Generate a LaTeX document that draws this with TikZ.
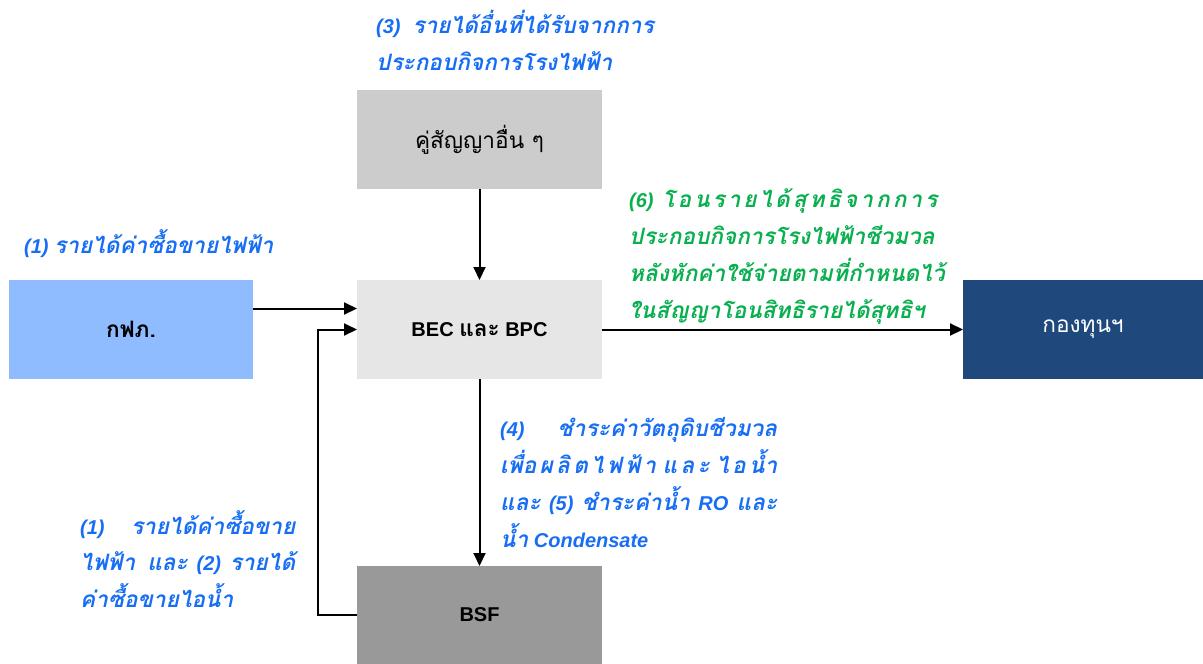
\documentclass[tikz,border=0pt]{standalone}
\usepackage{fontspec}
\setmainfont{Liberation Sans}
\newfontfamily\thaifont[Script=Thai,Scale=1.13]{Loma}
\newcommand\thtxt[1]{{\thaifont #1}}
\usetikzlibrary{arrows.meta}
\definecolor{gA}{HTML}{CCCCCC}
\definecolor{gB}{HTML}{E6E6E6}
\definecolor{gC}{HTML}{999999}
\definecolor{peablue}{HTML}{8FBBFF}
\definecolor{fundblue}{HTML}{1F497D}
\definecolor{labblue}{HTML}{176EF4}
\definecolor{labgreen}{HTML}{0AB050}
\begin{document}
\begin{tikzpicture}[x=1pt,y=-1pt,
  box/.style={minimum width=245pt, minimum height=99pt, inner sep=0pt, outer sep=0pt, anchor=north west, font=\fontsize{20}{24}\selectfont},
  boxb/.style={box, font=\bfseries\fontsize{20}{24}\selectfont},
  arr/.style={line width=2pt, -{Triangle[length=13pt,width=12pt]}},
  lab/.style={align=left, inner sep=0pt, anchor=north west, font=\bfseries\itshape\fontsize{20}{37}\selectfont},
  labb/.style={lab, text=labblue},
  labg/.style={lab, text=labgreen}]
\useasboundingbox (0,0) rectangle (1203,664);
\node[box, fill=gA] (other) at (357,90) {\thtxt{คู่สัญญาอื่น ๆ}};
\node[boxb, fill=gB] (bec) at (357,280) {BEC \thtxt{และ} BPC};
\node[boxb, fill=peablue, minimum width=244pt] (pea) at (9,280) {\thtxt{กฟภ.}};
\node[box, fill=fundblue, text=white, minimum width=240pt] (fund) at (963,280) {\thtxt{กองทุนฯ}};
\node[boxb, fill=gC, minimum height=98pt] (bsf) at (357,566) {BSF};
\draw[arr] (other.south) -- (bec.north);
\draw[arr] ([yshift=21pt]pea.east) -- ([yshift=21pt]bec.west);
\draw[arr] (bsf.west) -- ++(-39,0) |- (bec.west);
\draw[arr] (bec.east) -- (fund.west);
\draw[arr] (bec.south) -- (bsf.north);
\node[labb] (l3) at (376,10) {(3)\hspace{0.6em}\thtxt{รายได้อื่นที่ได้รับจากการ}\\\thtxt{ประกอบกิจการโรงไฟฟ้า}};
\node[labb] (l1) at (24,229) {(1) \thtxt{รายได้ค่าซื้อขายไฟฟ้า}};
\node[labg] (l6) at (629,188) {\makebox[308pt][s]{(6)\hspace{0.3em}\hfill\thtxt{โ\hfill อ\hfill น\hfill ร\hfill า\hfill ย\hfill ไ\hfill ด้\hfill สุ\hfill ท\hfill ธิ\hfill จ\hfill า\hfill ก\hfill ก\hfill า\hfill ร}}\\\thtxt{ประกอบกิจการโรงไฟฟ้าชีวมวล}\\\thtxt{หลังหักค่าใช้จ่ายตามที่กำหนดไว้}\\\thtxt{ในสัญญาโอนสิทธิรายได้สุทธิฯ}};
\node[labb] (l4) at (500,417) {\makebox[277pt][s]{(4)\hfill\thtxt{ชำระค่าวัตถุดิบชีวมวล}}\\\makebox[277pt][s]{\thtxt{เพื่อ\hfill ผ\hfill ลิ\hfill ต\hfill ไ\hfill ฟ\hfill ฟ้\hfill า\hfill\hfill แ\hfill ล\hfill ะ\hfill\hfill ไ\hfill อ\hfill น้ำ}}\\\makebox[277pt][s]{\thtxt{และ} (5) \thtxt{ชำระค่าน้ำ} RO \thtxt{และ}}\\\thtxt{น้ำ} Condensate};
\node[labb, font=\bfseries\itshape\fontsize{20}{36.5}\selectfont] (l12) at (80,510) {\makebox[215pt][s]{(1)\hfill\thtxt{รายได้ค่าซื้อขาย}}\\\makebox[215pt][s]{\thtxt{ไฟฟ้า และ} (2) \thtxt{รายได้}}\\\thtxt{ค่าซื้อขายไอน้ำ}};
\end{tikzpicture}
\end{document}
